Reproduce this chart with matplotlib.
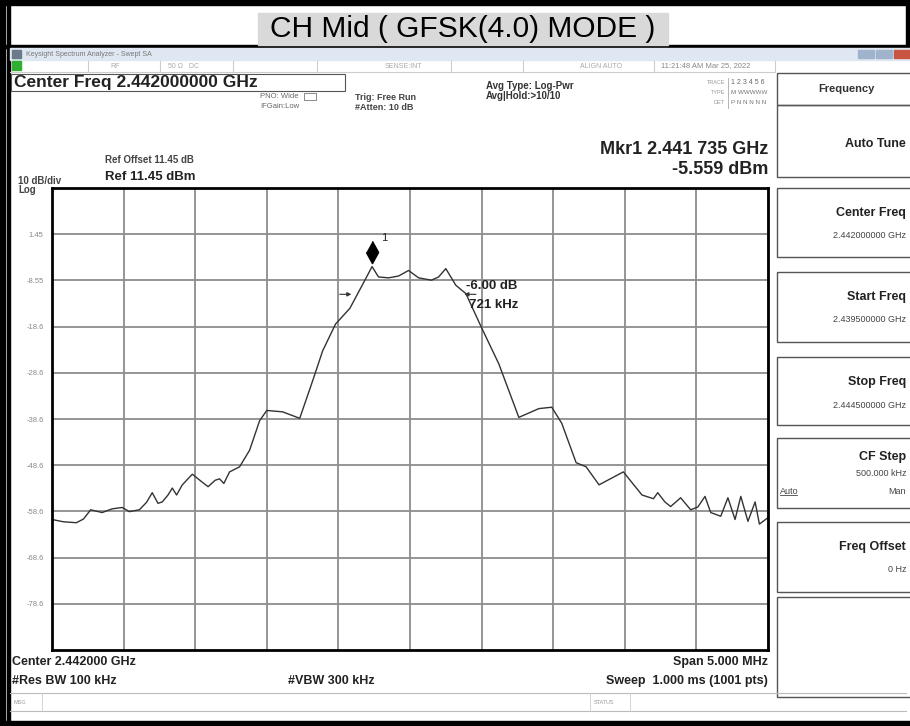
import matplotlib.pyplot as plt
from matplotlib.patches import Rectangle

plt.rcParams['font.family'] = ['Liberation Sans', 'DejaVu Sans']

# trace
freq_ghz = [2.43950, 2.43958, 2.43967, 2.43972, 2.43977, 2.43985, 2.43992, 2.43999,
            2.44004, 2.44011, 2.44016, 2.44020, 2.44024, 2.44027, 2.44031, 2.44034,
            2.44037, 2.44041, 2.44048, 2.44054, 2.44059, 2.44064, 2.44067, 2.44070,
            2.44074, 2.44081, 2.44088, 2.44095, 2.44100, 2.44111, 2.44123, 2.44132,
            2.44139, 2.44148, 2.44158, 2.44168, 2.441735, 2.44178, 2.44185, 2.44192,
            2.44199, 2.44206, 2.44215, 2.44220, 2.44225, 2.44232, 2.44239, 2.44250,
            2.44262, 2.44276, 2.44290, 2.44299, 2.44306, 2.44316, 2.44323, 2.44332,
            2.44349, 2.44362, 2.44370, 2.44373, 2.44378, 2.44382, 2.44389, 2.44396,
            2.44401, 2.44406, 2.44410, 2.44417, 2.44422, 2.44427, 2.44431, 2.44436,
            2.44441, 2.44444, 2.44450]
level_dbm = [-60.3, -60.8, -61.0, -60.2, -58.2, -58.8, -58.0, -57.7,
             -58.6, -58.2, -56.6, -54.5, -56.8, -56.5, -55.0, -53.5,
             -55.0, -52.8, -50.5, -52.0, -53.2, -51.8, -51.5, -52.5,
             -50.0, -48.9, -45.3, -38.9, -36.7, -37.0, -38.4, -30.3,
             -23.8, -18.0, -14.6, -8.8, -5.559, -7.8, -8.0, -7.6,
             -6.4, -8.0, -8.5, -7.8, -6.0, -9.6, -11.4, -18.8,
             -26.6, -38.2, -36.3, -36.0, -39.5, -48.0, -48.9, -52.8,
             -50.0, -55.0, -55.8, -54.5, -56.5, -57.5, -55.6, -58.2,
             -57.6, -55.3, -58.8, -59.6, -55.6, -60.3, -55.3, -60.7,
             -56.5, -61.3, -59.9]

start_ghz = 2.4395
stop_ghz = 2.4445
ref_level = 11.45
grid_levels = [1.45, -8.55, -18.55, -28.55, -38.55, -48.55, -58.55, -68.55, -78.55]
grid_labels = ['1.45', '-8.55', '-18.6', '-28.6', '-38.6', '-48.6', '-58.6', '-68.6', '-78.6']
mkr_freq = 2.441735
mkr_level = -5.559
ndb_left = 2.44161
ndb_right = 2.44236
ndb_level = -11.56

softkeys = [('Auto Tune', '', 105, 177),
            ('Center Freq', '2.442000000 GHz', 188, 257),
            ('Start Freq', '2.439500000 GHz', 272, 342),
            ('Stop Freq', '2.444500000 GHz', 357, 425),
            ('CF Step', '500.000 kHz', 438, 508),
            ('Freq Offset', '0 Hz', 522, 592),
            ('', '', 597, 697)]

fig = plt.figure(figsize=(9.1, 7.26), dpi=100)
ui = fig.add_axes([0, 0, 1, 1])
ui.set_xlim(0, 910)
ui.set_ylim(726, 0)
ui.axis('off')


def box(x, y, w, h, **kw):
    ui.add_patch(Rectangle((x, y), w, h, **kw))


# outer frame and title strip
box(0, 0, 910, 5, color='black')
box(0, 0, 5, 726, color='black')
box(7, 0, 3, 726, color='black')
box(0, 721, 910, 5, color='black')
box(906, 0, 4, 48, color='black')
box(0, 45, 910, 3, color='black')
box(258, 13, 410, 32, color='#d9d9d9')
ui.text(463, 29, 'CH Mid ( GFSK(4.0) MODE )', fontsize=21.5, ha='center', va='center')

# window title bar + status row
box(10, 48, 900, 12, color='#dfe8f2')
box(12, 50, 9, 8, color='#6a7a8a')
ui.text(26, 54, 'Keysight Spectrum Analyzer - Swept SA', fontsize=5, color='#777', va='center')
box(858, 50, 16, 8, color='#9fb4cc')
box(876, 50, 16, 8, color='#9fb4cc')
box(894, 50, 16, 8, color='#c8553f')
box(12, 61, 9, 9, color='#2fae2f')
for sx in [88, 160, 233, 317, 451, 523, 654, 775]:
    ui.plot([sx, sx], [61, 72], color='#cccccc', lw=0.8)
ui.plot([10, 775], [72, 72], color='#cccccc', lw=0.8)
ui.text(110, 66, 'RF', fontsize=5, color='#aaa', va='center')
ui.text(168, 66, '50 \u03a9   DC', fontsize=5, color='#aaa', va='center')
ui.text(385, 66, 'SENSE:INT', fontsize=5, color='#aaa', va='center')
ui.text(580, 66, 'ALIGN AUTO', fontsize=5, color='#aaa', va='center')
ui.text(661, 66, '11:21:48 AM Mar 25, 2022', fontsize=5.5, color='#888', va='center')

# header readouts
box(11, 74, 334, 17, fill=False, ec='#555', lw=0.8)
ui.text(14, 83, 'Center Freq 2.442000000 GHz', fontsize=12.5, fontweight='bold',
        color='#222', va='center')
ui.text(298, 97, 'PNO: Wide', fontsize=5.5, color='#666', ha='right', va='center')
ui.text(299, 107, 'IFGain:Low', fontsize=5.5, color='#666', ha='right', va='center')
box(304, 93, 12, 7, fill=False, ec='#777', lw=0.6)
ui.text(355, 97, 'Trig: Free Run', fontsize=6.5, fontweight='bold', color='#444', va='center')
ui.text(355, 108, '#Atten: 10 dB', fontsize=6.5, fontweight='bold', color='#444', va='center')
ui.text(486, 86, 'Avg Type: Log-Pwr', fontsize=7, fontweight='bold', color='#333', va='center')
ui.text(486, 96, 'Avg|Hold:>10/10', fontsize=7, fontweight='bold', color='#333', va='center')
ui.text(725, 83, 'TRACE', fontsize=4, color='#999', ha='right', va='center')
ui.text(725, 93, 'TYPE', fontsize=4, color='#999', ha='right', va='center')
ui.text(725, 103, 'DET', fontsize=4, color='#999', ha='right', va='center')
ui.plot([728, 728], [78, 108], color='#aaa', lw=0.6)
ui.text(731, 83, '1 2 3 4 5 6', fontsize=5, color='#666', va='center')
ui.text(731, 93, 'M WWWWW', fontsize=4.5, color='#777', va='center')
ui.text(731, 103, 'P N N N N N', fontsize=4.5, color='#777', va='center')
ui.text(768, 150, 'Mkr1 2.441 735 GHz', fontsize=13, fontweight='bold', color='#222',
        ha='right', va='center')
ui.text(768, 170, '-5.559 dBm', fontsize=13, fontweight='bold', color='#222',
        ha='right', va='center')
ui.text(105, 160, 'Ref Offset 11.45 dB', fontsize=7, fontweight='bold', color='#444', va='center')
ui.text(105, 177, 'Ref 11.45 dBm', fontsize=9.5, fontweight='bold', color='#222', va='center')
ui.text(18, 181, '10 dB/div', fontsize=7, fontweight='bold', color='#444', va='center')
ui.text(18, 190, 'Log', fontsize=7, fontweight='bold', color='#444', va='center')

# footer readouts
ui.text(12, 662, 'Center 2.442000 GHz', fontsize=9, fontweight='bold', color='#222', va='center')
ui.text(12, 681, '#Res BW 100 kHz', fontsize=9, fontweight='bold', color='#222', va='center')
ui.text(288, 681, '#VBW 300 kHz', fontsize=9, fontweight='bold', color='#222', va='center')
ui.text(768, 662, 'Span 5.000 MHz', fontsize=9, fontweight='bold', color='#222',
        ha='right', va='center')
ui.text(768, 681, 'Sweep  1.000 ms (1001 pts)', fontsize=9, fontweight='bold', color='#222',
        ha='right', va='center')
ui.plot([10, 906], [693, 693], color='#bbb', lw=0.8)
ui.plot([10, 906], [711, 711], color='#bbb', lw=0.8)
ui.plot([42, 42], [693, 711], color='#ccc', lw=0.6)
ui.plot([590, 590], [693, 711], color='#ccc', lw=0.6)
ui.plot([630, 630], [693, 711], color='#ccc', lw=0.6)
ui.text(14, 702, 'MSG', fontsize=4, color='#999', va='center')
ui.text(594, 702, 'STATUS', fontsize=4, color='#999', va='center')

# softkey panel
box(777, 73, 135, 32, fill=False, ec='#555', lw=1.0)
ui.text(846, 89, 'Frequency', fontsize=8, fontweight='bold', color='#333',
        ha='center', va='center')
for label, value, top, bot in softkeys:
    box(777, top, 135, bot - top, fill=False, ec='#555', lw=1.0)
    if label == 'CF Step':
        ui.text(906, top + 19, label, fontsize=9, fontweight='bold', color='#222',
                ha='right', va='center')
        ui.text(906, top + 36, value, fontsize=6.5, color='#444', ha='right', va='center')
        ui.text(906, top + 53, 'Man', fontsize=6.5, color='#444', ha='right', va='center')
        ui.text(780, top + 53, 'Auto', fontsize=6.5, color='#444', va='center')
        ui.plot([780, 797], [top + 57, top + 57], color='#444', lw=0.6)
    elif value:
        ui.text(906, top + 25, label, fontsize=9, fontweight='bold', color='#222',
                ha='right', va='center')
        ui.text(906, top + 48, value, fontsize=6.5, color='#444', ha='right', va='center')
    elif label:
        ui.text(906, (top + bot) / 2 + 3, label, fontsize=9, fontweight='bold', color='#222',
                ha='right', va='center')

# trace area
ax = fig.add_axes([52 / 910, 1 - 650 / 726, 716 / 910, 462 / 726])
ax.plot(freq_ghz, level_dbm, color='#333333', lw=1.0)
ax.set_xlim(start_ghz, stop_ghz)
ax.set_ylim(ref_level - 100, ref_level)
ax.set_xticks([start_ghz + i * 0.0005 for i in range(11)])
ax.set_yticks(grid_levels)
ax.set_yticklabels(grid_labels)
ax.tick_params(length=0, labelsize=5.5, labelcolor='#888', pad=6)
ax.tick_params(axis='x', labelbottom=False)
ax.grid(True, color='#8c8c8c', lw=1.3)
for s in ax.spines.values():
    s.set_linewidth(2)
    s.set_color('black')

# marker 1 and the -6 dB points
ax.plot(mkr_freq, mkr_level + 3.2, marker=[(0, 1), (0.55, 0), (0, -1), (-0.55, 0)],
        ms=16, color='black')
ax.text(mkr_freq + 0.00006, mkr_level + 5.5, '1', fontsize=8, color='#222')
ax.annotate('', xy=(ndb_left, ndb_level), xytext=(ndb_left - 0.00012, ndb_level),
            arrowprops=dict(arrowstyle='-|>', color='#333', lw=0.8, mutation_scale=6))
ax.annotate('', xy=(ndb_right, ndb_level), xytext=(ndb_right + 0.00012, ndb_level),
            arrowprops=dict(arrowstyle='-|>', color='#333', lw=0.8, mutation_scale=6))
ax.text(ndb_right + 0.00003, ndb_level + 1.8, '-6.00 dB', fontsize=9.5, fontweight='bold',
        color='#222', va='center')
ax.text(ndb_right + 0.00005, ndb_level - 2.4, '721 kHz', fontsize=9.5, fontweight='bold',
        color='#222', va='center')

fig.savefig('out.png', dpi=100)
